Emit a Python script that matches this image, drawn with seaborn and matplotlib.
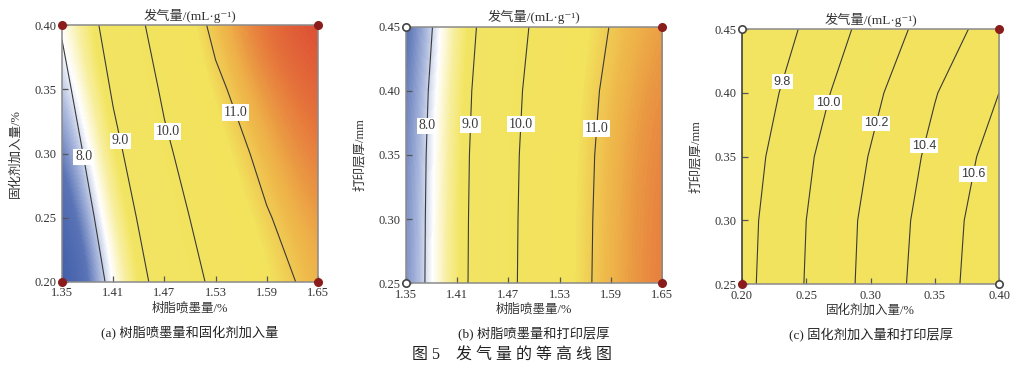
import numpy as np
import matplotlib
matplotlib.use("Agg")
import matplotlib.pyplot as plt
from matplotlib.colors import LinearSegmentedColormap, Normalize
import seaborn as sns
import pandas as pd

# 因素水平 (坐标轴刻度)
resin = [1.35, 1.41, 1.47, 1.53, 1.59, 1.65]      # 树脂喷墨量/%
curing = [0.20, 0.25, 0.30, 0.35, 0.40]            # 固化剂加入量/%
layer = [0.25, 0.30, 0.35, 0.40, 0.45]             # 打印层厚/mm

# 发气量 行: y 轴水平, 列: x 轴水平
gas_a = [
    [6.83, 8.22, 9.34, 10.17, 10.74, 11.20],
    [7.14, 8.50, 9.60, 10.41, 10.96, 11.35],
    [7.45, 8.79, 9.86, 10.65, 11.17, 11.50],
    [7.76, 9.08, 10.12, 10.89, 11.38, 11.65],
    [8.07, 9.36, 10.38, 11.13, 11.60, 11.80],
]
gas_b = [
    [7.55, 8.77, 9.86, 10.66, 11.20, 11.50],
    [7.54, 8.76, 9.85, 10.65, 11.19, 11.49],
    [7.52, 8.74, 9.83, 10.63, 11.17, 11.47],
    [7.47, 8.69, 9.78, 10.58, 11.12, 11.42],
    [7.37, 8.59, 9.68, 10.48, 11.02, 11.32],
]
gas_c = [
    [9.74, 10.01, 10.26, 10.51, 10.74],
    [9.73, 10.00, 10.25, 10.49, 10.73],
    [9.70, 9.97, 10.21, 10.45, 10.68],
    [9.65, 9.91, 10.15, 10.39, 10.60],
    [9.59, 9.83, 10.07, 10.29, 10.50],
]

levels_ab = [8.0, 9.0, 10.0, 11.0]
levels_c = [9.8, 10.0, 10.2, 10.4, 10.6]

# 设计点 (角点): 左下, 左上, 右下, 右上 是否为实心
corner_filled_a = [True, True, True, True]
corner_filled_b = [False, False, True, True]
corner_filled_c = [True, False, False, True]

titles = ["发气量/(mL·g⁻¹)"] * 3
xlabels = ["树脂喷墨量/%", "树脂喷墨量/%", "固化剂加入量/%"]
ylabels = ["固化剂加入量/%", "打印层厚/mm", "打印层厚/mm"]
captions = ["(a) 树脂喷墨量和固化剂加入量", "(b) 树脂喷墨量和打印层厚", "(c) 固化剂加入量和打印层厚"]
fig_caption = "图 5    发 气 量 的 等 高 线 图"

sns.set_theme(style="ticks")
plt.rcParams["font.family"] = ["Liberation Serif", "Noto Sans CJK SC", "DejaVu Sans"]

vmin, vmax = 6.8, 11.9
stops = [
    (6.8, "#3352a3"),
    (7.6, "#5a74b6"),
    (7.95, "#b5c1e2"),
    (8.2, "#ffffff"),
    (8.5, "#f8efa2"),
    (8.8, "#f3e564"),
    (10.8, "#f2e25c"),
    (11.2, "#eeb048"),
    (11.5, "#e6783c"),
    (11.9, "#d93a32"),
]
cmap = LinearSegmentedColormap.from_list(
    "rsm", [((v - vmin) / (vmax - vmin), c) for v, c in stops])
norm = Normalize(vmin=vmin, vmax=vmax)

fig = plt.figure(figsize=(10.24, 3.69), dpi=100)
boxes = [
    [0.0605, 0.236, 0.250, 0.696],
    [0.3965, 0.233, 0.250, 0.694],
    [0.7246, 0.230, 0.251, 0.691],
]

panels = [
    (resin, curing, gas_a, levels_ab, corner_filled_a,
     [(1.373, 0.297), (1.419, 0.31), (1.479, 0.318), (1.553, 0.332)], "Liberation Serif", 10),
    (resin, layer, gas_b, levels_ab, corner_filled_b,
     [(1.370, 0.373), (1.421, 0.374), (1.483, 0.374), (1.567, 0.371)], "Liberation Serif", 10),
    (curing, layer, gas_c, levels_c, corner_filled_c,
     [(0.228, 0.41), (0.264, 0.393), (0.301, 0.377), (0.340, 0.359), (0.377, 0.337)], "Liberation Sans", 9),
]

for i, (xs, ys, z, levels, filled, lab_pos, lab_font, lab_size) in enumerate(panels):
    ax = fig.add_axes(boxes[i])
    X, Y = np.meshgrid(xs, ys)
    Z = np.array(z)
    dx = (xs[1] - xs[0]) / 2
    dy = (ys[1] - ys[0]) / 2
    ax.imshow(Z, origin="lower", aspect="auto", cmap=cmap, norm=norm,
              extent=[xs[0] - dx, xs[-1] + dx, ys[0] - dy, ys[-1] + dy],
              interpolation="bicubic", interpolation_stage="data")
    cs = ax.contour(X, Y, Z, levels=levels, colors="#3a3a3a", linewidths=0.8)
    lbls = ax.clabel(cs, fmt="%.1f", inline=False, fontsize=lab_size, manual=lab_pos)
    for t in lbls:
        t.set_rotation(0)
        t.set_family(lab_font)
        t.set_zorder(6)
        t.set_bbox(dict(facecolor="white", edgecolor="none", pad=1.2))

    # 角点
    pts = pd.DataFrame({
        "x": [xs[0], xs[0], xs[-1], xs[-1]],
        "y": [ys[0], ys[-1], ys[0], ys[-1]],
        "filled": filled,
    })
    for f, df in pts.groupby("filled"):
        sns.scatterplot(data=df, x="x", y="y", ax=ax, s=28, zorder=10, clip_on=False,
                        color="#8b1c1c" if f else "white",
                        edgecolor="#8b1c1c" if f else "#444444", linewidth=1.2,
                        legend=False)

    ax.set_xlim(xs[0], xs[-1])
    ax.set_ylim(ys[0], ys[-1])
    ax.set_xticks(xs)
    ax.set_xticklabels([f"{v:.2f}" for v in xs])
    ax.set_yticks(ys)
    ax.set_yticklabels([f"{v:.2f}" for v in ys])
    ax.tick_params(direction="in", length=4, width=0.9, color="#555555",
                   labelsize=9, labelcolor="#333333", pad=4)
    for s in ax.spines.values():
        s.set_color("#8a8a8a")
        s.set_linewidth(1.1)
        s.set_zorder(8)
    if i == 2:
        ax.spines["left"].set_color("#333333")
    ax.set_title(titles[i], fontsize=9.5, color="#333333", pad=4)
    ax.set_xlabel(xlabels[i], fontsize=9, color="#333333", labelpad=2)
    ax.set_ylabel(ylabels[i], fontsize=9, color="#333333", labelpad=9)
    ax.text(0.5, -0.17, captions[i], transform=ax.transAxes, ha="center", va="top",
            fontsize=9.5, color="#222222")

fig.text(0.5, 0.035, fig_caption, ha="center", va="center", fontsize=11.5, color="#222222")

fig.savefig("out.png", dpi=100, facecolor="white")
